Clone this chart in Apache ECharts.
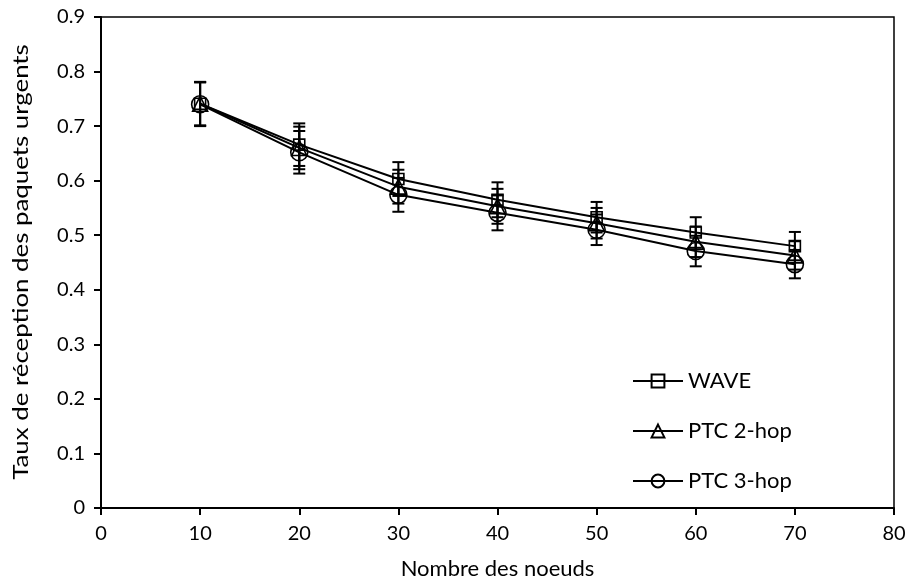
<!DOCTYPE html>
<html>
<head>
<meta charset="utf-8">
<script src="https://cdn.jsdelivr.net/npm/echarts@6/dist/echarts.min.js"></script>
<style>
html,body{margin:0;padding:0;background:#fff;}
#c{width:914px;height:585px;}
</style>
</head>
<body>
<div id="c"></div>
<script>
const nodes = [10, 20, 30, 40, 50, 60, 70];
const wave = [0.741, 0.666, 0.603, 0.565, 0.533, 0.505, 0.480];
const ptc2 = [0.741, 0.660, 0.589, 0.553, 0.522, 0.488, 0.463];
const ptc3 = [0.740, 0.652, 0.574, 0.541, 0.510, 0.471, 0.447];
const errWave = [0.040, 0.039, 0.031, 0.032, 0.028, 0.028, 0.026];
const errPtc2 = [0.040, 0.039, 0.031, 0.032, 0.028, 0.028, 0.026];
const errPtc3 = [0.040, 0.039, 0.031, 0.032, 0.028, 0.028, 0.026];
const seriesNames = ['WAVE', 'PTC 2-hop', 'PTC 3-hop'];
const xTitle = 'Nombre des noeuds';
const yTitle = 'Taux de réception des paquets urgents';
const xTicks = [0, 10, 20, 30, 40, 50, 60, 70, 80];
const yTicks = [0, 0.1, 0.2, 0.3, 0.4, 0.5, 0.6, 0.7, 0.8, 0.9];

const FONT = 'Lato';

function errData(vals, errs) {
  return nodes.map((x, i) => [x, vals[i] - errs[i], vals[i] + errs[i]]);
}
function renderErr(params, api) {
  const x = api.value(0);
  const lo = api.coord([x, api.value(1)]);
  const hi = api.coord([x, api.value(2)]);
  const w = 6;
  const st = { stroke: '#000', lineWidth: 2 };
  return {
    type: 'group',
    children: [
      { type: 'line', shape: { x1: hi[0], y1: hi[1], x2: lo[0], y2: lo[1] }, style: st },
      { type: 'line', shape: { x1: hi[0] - w, y1: hi[1], x2: hi[0] + w, y2: hi[1] }, style: st },
      { type: 'line', shape: { x1: lo[0] - w, y1: lo[1], x2: lo[0] + w, y2: lo[1] }, style: st }
    ]
  };
}
function lineSeries(name, vals, symbol, size) {
  return {
    name: name,
    type: 'line',
    data: nodes.map((x, i) => [x, vals[i]]),
    symbol: symbol,
    symbolSize: size,
    showAllSymbol: true,
    lineStyle: { color: '#000', width: 2 },
    itemStyle: { color: 'rgba(0,0,0,0)', borderColor: '#000', borderWidth: 1.6 },
    emphasis: { disabled: true },
    z: 3
  };
}
function errSeries(vals, errs) {
  return {
    type: 'custom',
    data: errData(vals, errs),
    renderItem: renderErr,
    silent: true,
    z: 4
  };
}

const chart = echarts.init(document.getElementById('c'), null, { renderer: 'canvas' });
chart.setOption({
  animation: false,
  backgroundColor: '#fff',
  textStyle: { fontFamily: FONT },
  grid: {
    left: 101, top: 17, right: 20, bottom: 75,
    show: true, borderColor: '#000', borderWidth: 1.5, backgroundColor: 'transparent'
  },
  legend: {
    orient: 'vertical',
    left: 632,
    top: 370,
    padding: 0,
    itemWidth: 50,
    itemHeight: 16,
    itemGap: 28,
    data: seriesNames,
    textStyle: { fontFamily: FONT, fontSize: 22, color: '#000' },
    selectedMode: false
  },
  graphic: [{
    type: 'text',
    x: 21,
    y: 262,
    rotation: Math.PI / 2,
    scaleX: 1.23,
    scaleY: 1,
    silent: true,
    style: {
      text: yTitle,
      fontFamily: FONT,
      fontSize: 21,
      fill: '#000',
      align: 'center',
      verticalAlign: 'middle'
    }
  }],
  xAxis: {
    type: 'value',
    min: xTicks[0],
    max: xTicks[xTicks.length - 1],
    interval: 10,
    name: xTitle,
    nameLocation: 'middle',
    nameGap: 50,
    nameTextStyle: { fontFamily: FONT, fontSize: 22, color: '#000' },
    axisLine: { show: true, lineStyle: { color: '#000', width: 2 } },
    axisTick: { show: true, inside: false, length: 7, lineStyle: { color: '#000', width: 2 } },
    axisLabel: { fontFamily: FONT, fontSize: 20, color: '#000', margin: 16 },
    splitLine: { show: false }
  },
  yAxis: {
    type: 'value',
    min: yTicks[0],
    max: yTicks[yTicks.length - 1],
    interval: 0.1,
    axisLine: { show: true, lineStyle: { color: '#000', width: 2 } },
    axisTick: { show: true, inside: false, length: 7, lineStyle: { color: '#000', width: 2 } },
    axisLabel: {
      fontFamily: FONT, fontSize: 20, color: '#000', margin: 16,
      formatter: v => (v === 0 ? '0' : v.toFixed(1))
    },
    splitLine: { show: false }
  },
  series: [
    lineSeries(seriesNames[0], wave, 'rect', 11),
    lineSeries(seriesNames[1], ptc2, 'triangle', 15),
    lineSeries(seriesNames[2], ptc3, 'circle', 17),
    errSeries(wave, errWave),
    errSeries(ptc2, errPtc2),
    errSeries(ptc3, errPtc3)
  ]
});
</script>
</body>
</html>
